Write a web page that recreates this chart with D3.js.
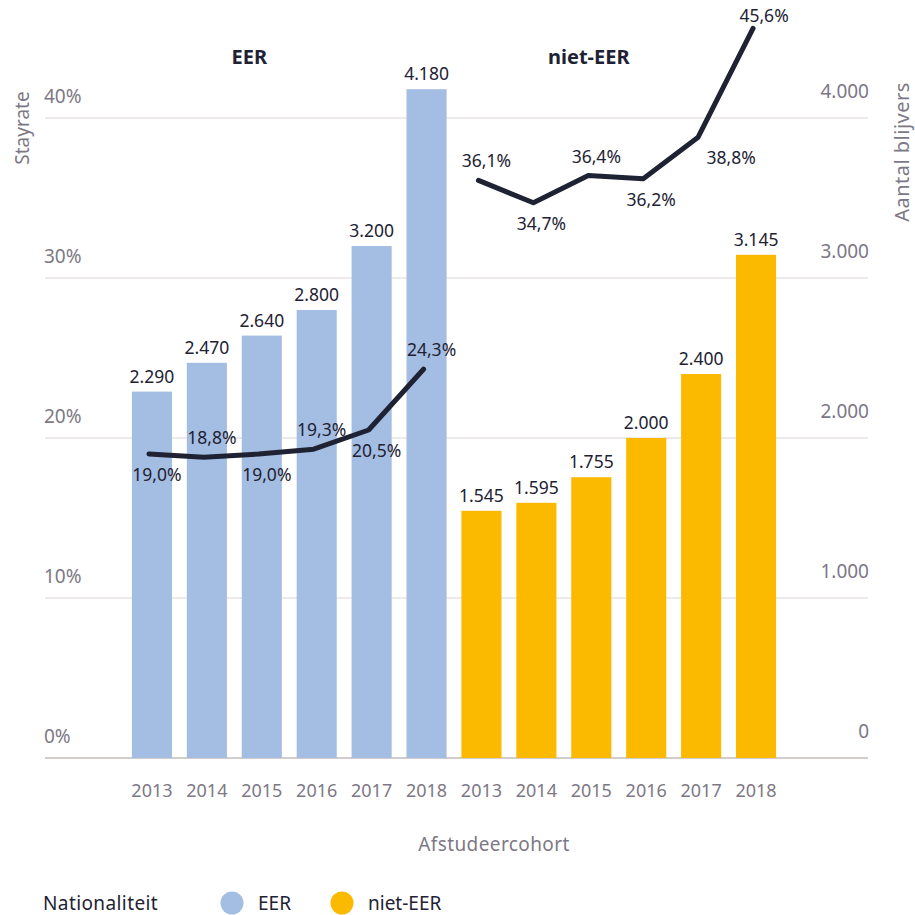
<!DOCTYPE html>
<html>
<head>
<meta charset="utf-8">
<script src="https://cdn.jsdelivr.net/npm/d3@7"></script>
<style>
  body { margin: 0; background: #fff; }
  text { font-family: "Noto Sans", Lato, sans-serif; }
</style>
</head>
<body>
<div id="canvas"></div>
<script>
// data
var years = ["2013", "2014", "2015", "2016", "2017", "2018"]
var groups = ["EER", "niet-EER"]
var eerBlijvers = [2290, 2470, 2640, 2800, 3200, 4180]
var nietEerBlijvers = [1545, 1595, 1755, 2000, 2400, 3145]
var eerStayrate = [19.0, 18.8, 19.0, 19.3, 20.5, 24.3]
var nietEerStayrate = [36.1, 34.7, 36.4, 36.2, 38.8, 45.6]
var leftTicks = [0, 10, 20, 30, 40]
var rightTicks = [0, 1000, 2000, 3000, 4000]

var width = 915
var height = 915
var colors = { "EER": "#a4bde2", "niet-EER": "#fbb900" }
var dark = "#1e2233"
var grey = "#7d7885"

var svg = d3.select("#canvas")
    .append("svg")
    .attr("width", width)
    .attr("height", height)

// one category per group/year
var rows = []
groups.forEach(function (g) {
    years.forEach(function (y, i) {
        rows.push({
            key: g + "-" + y,
            group: g,
            year: y,
            count: g == "EER" ? eerBlijvers[i] : nietEerBlijvers[i],
            rate: g == "EER" ? eerStayrate[i] : nietEerStayrate[i],
            idx: i
        })
    })
})

var xScale = d3.scaleBand()
    .domain(rows.map(function (d) { return d.key }))
    .range([124.5, 783.5])
    .paddingInner(0.27)
    .paddingOuter(0.135)

var yRate = d3.scaleLinear().domain([0, 40]).range([758, 118])
var yCount = d3.scaleLinear().domain([0, 4000]).range([758, 118])

var fmtCount = function (v) { return d3.format(",")(v).replace(/,/g, ".") }
var fmtRate = function (v) { return d3.format(".1f")(v).replace(".", ",") + "%" }

// gridlines
svg.append("g")
    .selectAll("line")
    .data(leftTicks)
    .enter()
    .append("line")
    .attr("x1", 45)
    .attr("x2", 868)
    .attr("y1", function (d) { return yRate(d) })
    .attr("y2", function (d) { return yRate(d) })
    .attr("stroke", function (d) { return d == 0 ? "#d4cbcb" : "#e0d6d6" })
    .attr("stroke-width", function (d) { return d == 0 ? 2 : 1.2 })

// left axis labels
svg.append("g")
    .selectAll("text")
    .data(leftTicks)
    .enter()
    .append("text")
    .attr("x", 44)
    .attr("y", function (d) { return yRate(d) - 15 })
    .attr("fill", grey)
    .style("font-size", "19px")
    .text(function (d) { return d + "%" })

// right axis labels
svg.append("g")
    .selectAll("text")
    .data(rightTicks)
    .enter()
    .append("text")
    .attr("x", 869)
    .attr("y", function (d) { return yCount(d) - 20 })
    .attr("text-anchor", "end")
    .attr("fill", grey)
    .style("font-size", "19px")
    .text(function (d) { return fmtCount(d) })

// axis titles
svg.append("text")
    .attr("transform", "translate(29,128) rotate(-90)")
    .attr("text-anchor", "middle")
    .attr("fill", grey)
    .style("font-size", "19px")
    .text("Stayrate")

svg.append("text")
    .attr("transform", "translate(909,152) rotate(-90)")
    .attr("text-anchor", "middle")
    .attr("fill", grey)
    .style("font-size", "20px")
    .style("letter-spacing", "0.5px")
    .text("Aantal blijvers")

// bars
svg.selectAll(".bar")
    .data(rows)
    .enter()
    .append("rect")
    .attr("class", "bar")
    .attr("x", function (d) { return xScale(d.key) })
    .attr("y", function (d) { return yCount(d.count) })
    .attr("width", xScale.bandwidth())
    .attr("height", function (d) { return yCount(0) - yCount(d.count) })
    .attr("fill", function (d) { return colors[d.group] })

// bar value labels
svg.selectAll(".barlabel")
    .data(rows)
    .enter()
    .append("text")
    .attr("class", "barlabel")
    .attr("x", function (d) { return xScale(d.key) + xScale.bandwidth() / 2 })
    .attr("y", function (d) { return yCount(d.count) - 9 })
    .attr("text-anchor", "middle")
    .attr("fill", dark)
    .style("font-size", "17.5px")
    .text(function (d) { return fmtCount(d.count) })

// year labels
svg.selectAll(".yearlabel")
    .data(rows)
    .enter()
    .append("text")
    .attr("class", "yearlabel")
    .attr("x", function (d) { return xScale(d.key) + xScale.bandwidth() / 2 })
    .attr("y", 797)
    .attr("text-anchor", "middle")
    .attr("fill", grey)
    .style("font-size", "18px")
    .text(function (d) { return d.year })

svg.append("text")
    .attr("x", 494)
    .attr("y", 851)
    .attr("text-anchor", "middle")
    .attr("fill", grey)
    .style("font-size", "19px")
    .style("letter-spacing", "0.4px")
    .text("Afstudeercohort")

// group titles
groups.forEach(function (g) {
    var keys = years.map(function (y) { return g + "-" + y })
    var cx = (xScale(keys[0]) + xScale(keys[5]) + xScale.bandwidth()) / 2
    svg.append("text")
        .attr("x", g == "EER" ? cx - 40 : cx - 30)
        .attr("y", 64)
        .attr("text-anchor", "middle")
        .attr("fill", dark)
        .style("font-size", "20px")
        .style("font-weight", "bold")
        .text(g)
})

// stayrate lines
var line = d3.line()
    .x(function (d) { return xScale(d.key) + xScale.bandwidth() / 2 - 3 })
    .y(function (d) { return yRate(d.rate) })

// label side per point: -1 above, 1 below
var labelSide = {
    "EER": [1, -1, 1, -1, 1, -1],
    "niet-EER": [-1, 1, -1, 1, 1, -1]
}

groups.forEach(function (g) {
    var pts = rows.filter(function (d) { return d.group == g })
    svg.append("path")
        .datum(pts)
        .attr("d", line)
        .attr("fill", "none")
        .attr("stroke", dark)
        .attr("stroke-width", 5)
        .attr("stroke-linecap", "round")
        .attr("stroke-linejoin", "round")

    svg.selectAll(".ratelabel-" + g)
        .data(pts)
        .enter()
        .append("text")
        .attr("x", function (d) {
            var dx = 5
            if (g == "niet-EER" && d.idx == 4) dx = 30
            if (g == "niet-EER" && d.idx == 5) dx = 8
            return xScale(d.key) + xScale.bandwidth() / 2 + dx
        })
        .attr("y", function (d) {
            var side = labelSide[g][d.idx]
            var off = side < 0 ? -13 : 27
            if (g == "niet-EER" && d.idx == 5) off = -6
            return yRate(d.rate) + off
        })
        .attr("text-anchor", "middle")
        .attr("fill", dark)
        .style("font-size", "17.5px")
        .text(function (d) { return fmtRate(d.rate) })
})

// legend
var legend = svg.append("g").attr("transform", "translate(0,903)")
legend.append("text")
    .attr("x", 43)
    .attr("y", 7)
    .attr("fill", dark)
    .style("font-size", "19px")
    .style("letter-spacing", "0.4px")
    .text("Nationaliteit")

var legendX = [232, 342]
groups.forEach(function (g, i) {
    legend.append("circle")
        .attr("cx", legendX[i])
        .attr("cy", 0)
        .attr("r", 11.5)
        .attr("fill", colors[g])
    legend.append("text")
        .attr("x", legendX[i] + 26)
        .attr("y", 7)
        .attr("fill", dark)
        .style("font-size", "19px")
        .text(g)
})
</script>
</body>
</html>
